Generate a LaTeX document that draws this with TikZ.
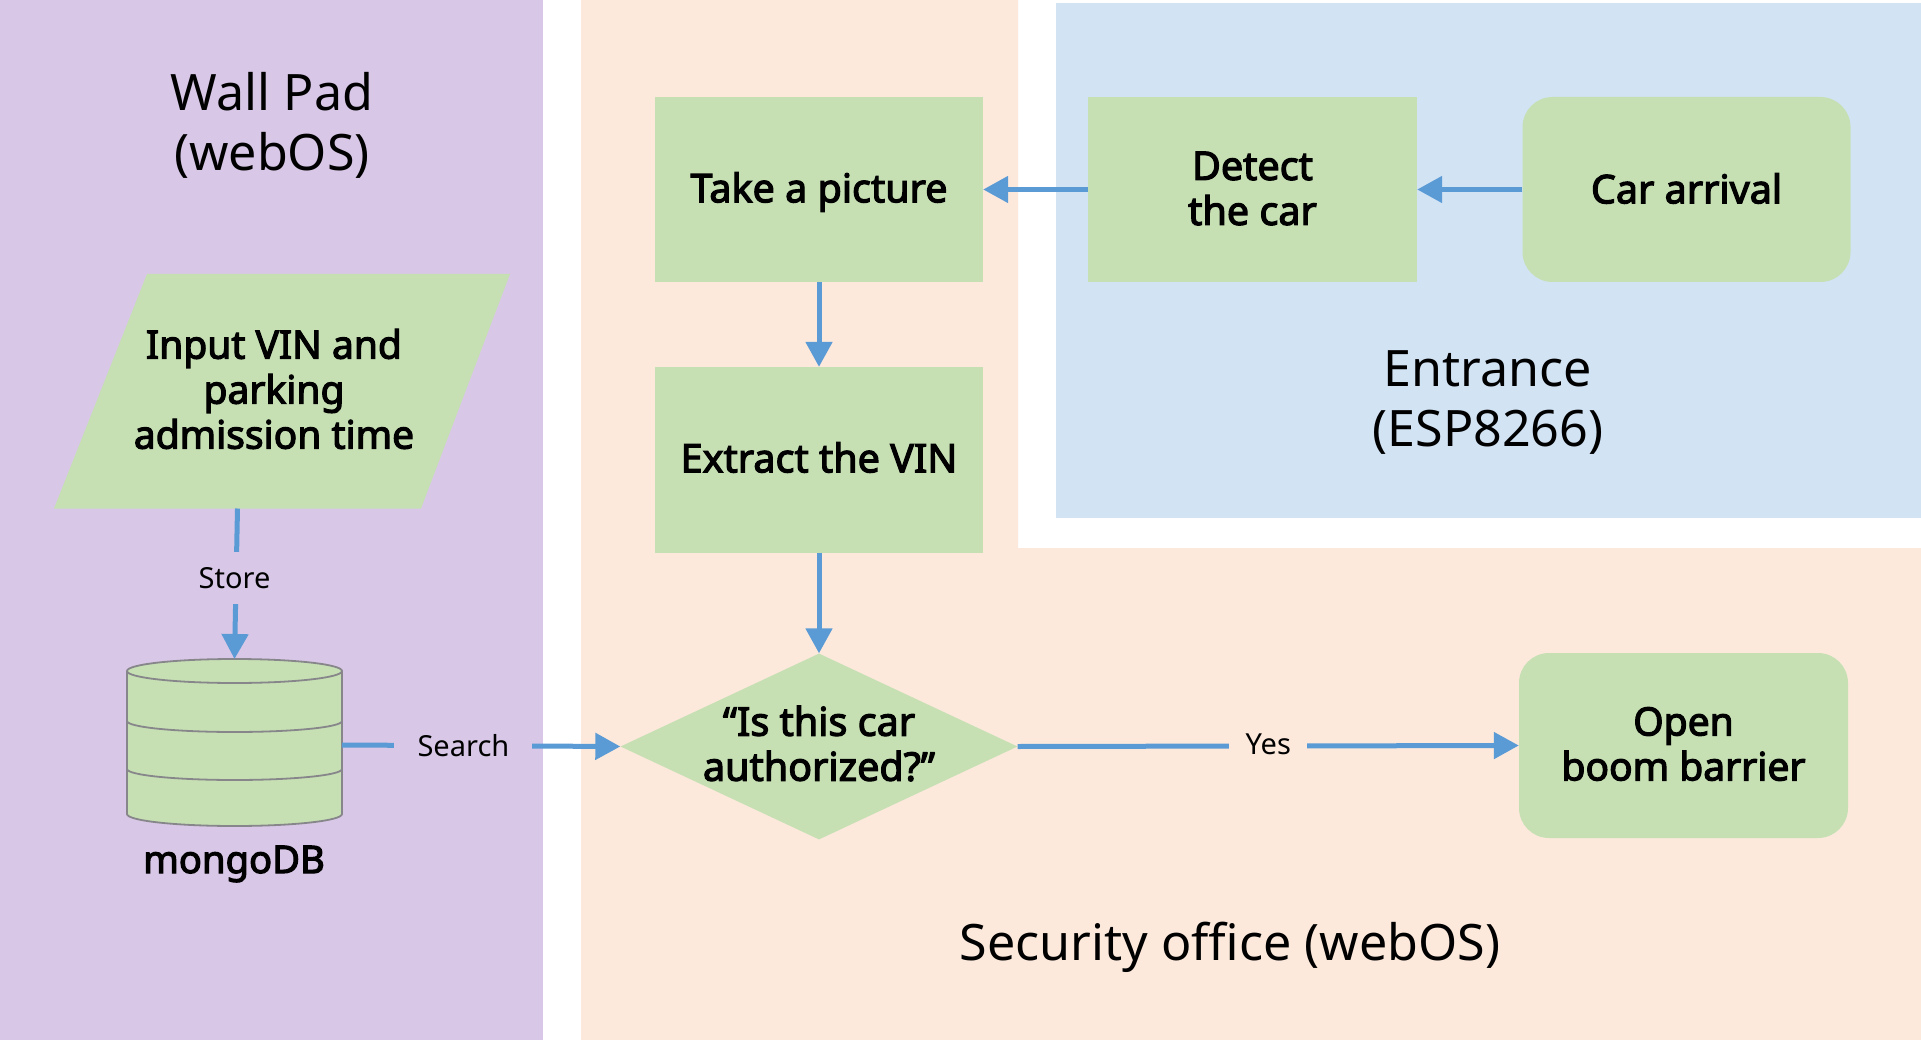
\documentclass[tikz,border=0pt]{standalone}
\usepackage{fontspec}
\setmainfont{Noto Sans}
\newfontfamily\strongfont[FakeBold=3]{Noto Sans}
\usetikzlibrary{arrows.meta,shapes.geometric}
\definecolor{panelpurple}{HTML}{D8C7E6}
\definecolor{panelpeach}{HTML}{FCE9DC}
\definecolor{panelblue}{HTML}{D2E3F4}
\definecolor{stepgreen}{HTML}{C6E0B4}
\definecolor{linkblue}{HTML}{5B9BD5}
\definecolor{dbgray}{HTML}{87868A}
\tikzset{
  x=1pt,y=-1pt,
  boxnode/.style={rectangle,fill=stepgreen,inner sep=0pt},
  stepbox/.style={boxnode,minimum width=328pt,minimum height=185pt},
  roundbox/.style={boxnode,rounded corners=30pt,minimum width=328pt,minimum height=185pt},
  boldtext/.style={inner sep=0pt,align=center,font=\strongfont\fontsize{39.5}{45}\selectfont,text=black},
  paneltext/.style={inner sep=0pt,align=center,font=\fontsize{50.2}{60}\selectfont,text=black},
  edgetext/.style={inner sep=0pt,font=\fontsize{29}{32}\selectfont,text=black},
  link/.style={draw=linkblue,line width=5pt,-{Triangle[length=25pt,width=26pt]}},
  dbshape/.style={draw=dbgray,line width=1.8pt,fill=stepgreen},
}
\begin{document}
\begin{tikzpicture}
\useasboundingbox (0,0) rectangle (1921,1040);
\fill[white] (0,0) rectangle (1921,1040);
% panels
\fill[panelpurple] (0,0) rectangle (543,1040);
\fill[panelpeach] (581,0) -- (1018,0) -- (1018,548) -- (1921,548) -- (1921,1040) -- (581,1040) -- cycle;
\fill[panelblue] (1056,3) rectangle (1921,518);
\node[paneltext] (wallpad) at (272,125.5) {Wall Pad\\(webOS)};
\node[paneltext] (entrance) at (1488,403) {Entrance\\(ESP8266)};
\node[paneltext] (security) at (1230,947) {Security office (webOS)};
% steps
\node[stepbox] (take) at (819,189.5) {};
\node[boldtext] (taketext) at (819,192) {Take a picture};
\node[stepbox,minimum width=329pt] (detect) at (1252.5,189.5) {};
\node[boldtext] (detecttext) at (1252.5,188.5) {Detect\\the car};
\node[roundbox] (arrival) at (1686.5,189.5) {};
\node[boldtext] (arrivaltext) at (1686.5,188.5) {Car arrival};
\node[stepbox,minimum height=185.5pt] (extract) at (819,459.8) {};
\node[boldtext] (extracttext) at (819,457.5) {Extract the VIN};
\node[roundbox,minimum width=329pt] (open) at (1683.5,745.5) {};
\node[boldtext,font=\strongfont\fontsize{39}{45}\selectfont] (opentext) at (1683.5,744) {Open\\boom barrier};
\node[diamond,fill=stepgreen,inner sep=0pt,aspect=2.13,minimum width=397pt,minimum height=186pt] (auth) at (819,746.5) {};
\node[boldtext] (authtext) at (819,743.5) {“Is this car\\authorized?”};
% input parallelogram
\fill[stepgreen] (147,274) -- (510,274) -- (421,508.5) -- (54,508.5) -- cycle;
\node[boldtext,font=\strongfont\fontsize{39}{45}\selectfont] (vin) at (274,389) {Input VIN and\\parking\\admission time};
\coordinate (vinout) at (237.5,508.5);
% database
\draw[dbshape] (127,671) -- (127,814) arc[start angle=180,end angle=0,x radius=107.5,y radius=12] -- (342,671);
\draw[dbshape] (127,671) arc[start angle=180,end angle=-180,x radius=107.5,y radius=12];
\draw[dbgray,line width=1.8pt] (127,721) arc[start angle=180,end angle=0,x radius=107.5,y radius=11];
\draw[dbgray,line width=1.8pt] (127,769) arc[start angle=180,end angle=0,x radius=107.5,y radius=11];
\coordinate (dbtop) at (234.5,659);
\coordinate (dbright) at (342,745);
\node[boldtext,font=\strongfont\fontsize{38.2}{45}\selectfont] (mongo) at (234,864) {mongoDB};
% connectors
\draw[link] (detect.west) -- (take.east);
\draw[link] (arrival.west) -- (detect.east);
\draw[link] (take.south) -- (extract.north);
\draw[link] (extract.south) -- (auth.north);
\draw[link] (vinout) -- node[pos=0.47,edgetext,fill=panelpurple,minimum width=80pt,minimum height=52pt,xshift=-1.5pt,yshift=1pt] (store) {Store} (dbtop);
\draw[link] (dbright) -- node[pos=0.44,edgetext,fill=panelpurple,minimum width=138pt,minimum height=34pt,xshift=-1pt] (search) {Search} (auth.west);
\draw[link] (auth.east) -- node[pos=0.5,edgetext,fill=panelpeach,minimum width=78pt,minimum height=34pt,yshift=2pt] (yes) {Yes} (open.west);
\end{tikzpicture}
\end{document}
